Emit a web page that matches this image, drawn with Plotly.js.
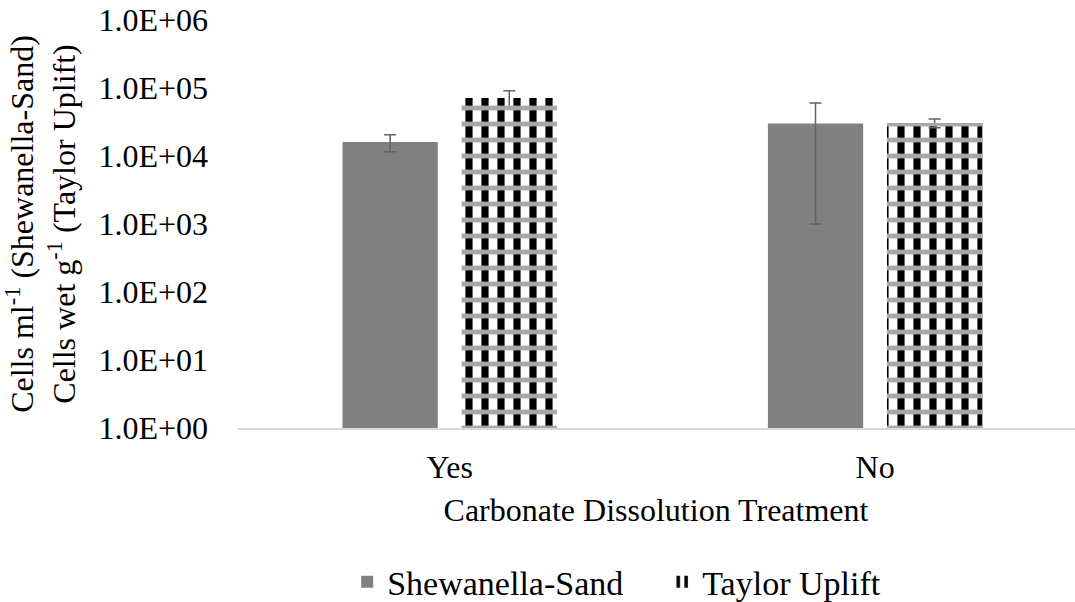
<!DOCTYPE html>
<html>
<head>
<meta charset="utf-8">
<script src="https://cdn.plot.ly/plotly-3.0.1.min.js"></script>
<style>html,body{margin:0;padding:0;background:#fff;}#chart{width:1075px;height:602px;}</style>
</head>
<body>
<div id="chart"></div>
<script>
// Data
var categories = ["Yes", "No"];
var shewanellaValues = [16000, 30000];
var shewanellaErrPlus = [4500, 30000];
var shewanellaErrMinus = [4500, 29000];
var taylorValues = [71000, 30500];
var taylorErrPlus = [20000, 4500];
var taylorErrMinus = [20000, 4500];
var yTickVals = [1, 10, 100, 1000, 10000, 100000, 1000000];
var yTickText = ["1.0E+00", "1.0E+01", "1.0E+02", "1.0E+03", "1.0E+04", "1.0E+05", "1.0E+06"];
var seriesNames = ["Shewanella-Sand", "Taylor Uplift"];

var FONT = "Liberation Serif, Times New Roman, serif";
var FS = 32;

var traces = [
  {
    type: "bar", name: seriesNames[0], x: categories, y: shewanellaValues,
    offsetgroup: "a",
    marker: {color: "#808080", line: {width: 0}},
    error_y: {type: "data", array: shewanellaErrPlus, arrayminus: shewanellaErrMinus,
              color: "#636363", thickness: 1.5, width: 6}
  },
  {
    type: "bar", name: seriesNames[1], x: categories, y: taylorValues,
    offsetgroup: "b",
    marker: {color: "#ffffff", line: {width: 0},
             pattern: {shape: "|", fgcolor: "#000000", bgcolor: "#ffffff", fgopacity: 1, size: 16, solidity: 0.45, fillmode: "overlay"}},
    error_y: {type: "data", array: taylorErrPlus, arrayminus: taylorErrMinus,
              color: "#636363", thickness: 1.5, width: 6}
  },
  {
    type: "bar", name: seriesNames[1], x: categories, y: taylorValues,
    offsetgroup: "b", showlegend: false, hoverinfo: "skip",
    marker: {color: "rgba(0,0,0,0)", line: {width: 0},
             pattern: {shape: "-", fgcolor: "#a8a8a8", bgcolor: "rgba(0,0,0,0)", fgopacity: 1, size: 16, solidity: 0.3, fillmode: "overlay"}}
  }
];

var layout = {
  width: 1075, height: 602,
  margin: {l: 237, r: 0, t: 20, b: 174},
  paper_bgcolor: "#ffffff", plot_bgcolor: "#ffffff",
  font: {family: FONT, size: FS, color: "#000000"},
  barmode: "group", bargap: 0.44, bargroupgap: 0.2,
  showlegend: true,
  legend: {orientation: "h", xref: "container", yref: "container", x: 0.616, xanchor: "center",
           y: 0.033, yanchor: "middle", entrywidth: 270, entrywidthmode: "pixels",
           font: {family: FONT, size: 34, color: "#000"}},
  xaxis: {
    type: "category", range: [-0.5, 1.47], showgrid: false, zeroline: false,
    showline: true, linecolor: "#d9d9d9", linewidth: 1.5,
    ticks: "", tickfont: {family: FONT, size: FS}, ticklabelstandoff: 10,
    title: {text: "Carbonate Dissolution Treatment", font: {family: FONT, size: FS}, standoff: 14}
  },
  yaxis: {
    type: "log", range: [0, 6], showgrid: false, zeroline: false, showline: false,
    tickvals: yTickVals, ticktext: yTickText, ticks: "",
    tickfont: {family: FONT, size: FS}, ticklabelstandoff: 28,
    title: {text: "Cells ml<sup>-1</sup> (Shewanella-Sand)<br>Cells wet g<sup>-1</sup> (Taylor Uplift)",
            font: {family: FONT, size: FS}, standoff: 22}
  }
};

Plotly.newPlot("chart", traces, layout, {displayModeBar: false, staticPlot: true});
</script>
</body>
</html>
